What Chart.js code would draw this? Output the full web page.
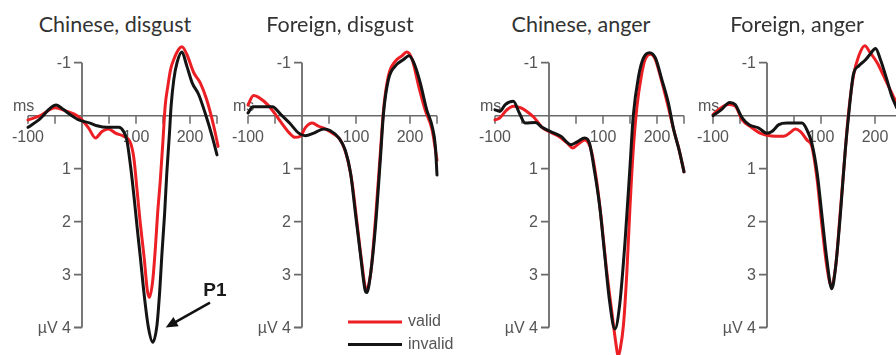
<!DOCTYPE html>
<html>
<head>
<meta charset="utf-8">
<script src="https://cdn.jsdelivr.net/npm/chart.js@4.4.0/dist/chart.umd.min.js"></script>
<style>
  html, body { margin: 0; padding: 0; background: #fff; }
  #wrap { position: relative; width: 896px; height: 355px; overflow: hidden; }
  #wrap canvas { position: absolute; top: 0; }
  .ttl { position: absolute; top: 11px; width: 220px; text-align: center;
         font: 21.5px Lato, "Open Sans", sans-serif; line-height: 26px; color: #333; white-space: nowrap; }
</style>
</head>
<body>
<div id="wrap"></div>
<script>
// ERP waveforms (µV, negative up), time in ms

const panelTitles = ["Chinese, disgust", "Foreign, disgust", "Chinese, anger", "Foreign, anger"];
const seriesLabels = ["valid", "invalid"];

const xTickValues = [-100, -50, 0, 50, 100, 150, 200, 250];
const xTickLabels = ["-100", "", "", "", "100", "", "200", ""];
const yTickValues = [-1, 1, 2, 3, 4];
const yTickLabels = ["-1", "1", "2", "3", "\u00b5V 4"];

// Chinese, disgust
const cdValidT = [-100, -77, -50, -28, -9, 0, 12, 25, 37, 49, 62, 77, 90, 96, 102, 108, 115, 121, 125, 131, 136, 140, 145, 150, 154, 159, 164, 170, 179, 185, 194, 207, 219, 231, 244, 252];
const cdValidV = [0.08, 0, -0.15, -0.08, 0, 0.08, 0.23, 0.42, 0.3, 0.25, 0.33, 0.39, 0.52, 0.8, 1.41, 2.04, 2.67, 3.3, 3.43, 3.11, 2.48, 1.85, 1.22, 0.46, -0.18, -0.56, -0.87, -1.06, -1.25, -1.3, -1.16, -0.81, -0.62, -0.3, 0.2, 0.58];
const cdInvalidT = [-100, -80, -48, -35, -22, -6, 15, 28, 46, 68, 77, 83, 90, 96, 102, 108, 115, 123, 131, 139, 144, 148, 153, 157, 162, 165, 170, 176, 185, 194, 204, 216, 228, 241, 250];
const cdInvalidV = [0.22, 0.08, -0.2, -0.12, -0.02, 0.08, 0.14, 0.19, 0.22, 0.22, 0.3, 0.46, 0.96, 1.5, 2.1, 2.67, 3.37, 4.0, 4.28, 3.94, 3.3, 2.61, 1.85, 1.09, 0.33, -0.18, -0.68, -1.0, -1.2, -0.94, -0.62, -0.4, -0.05, 0.39, 0.74];

// Foreign, disgust
const fdValidT = [-100, -90, -81, -61, -42, -23, -13, -3, 6, 19, 31, 43, 56, 71, 83, 93, 102, 111, 119, 127, 136, 145, 151, 160, 173, 185, 194, 204, 216, 228, 241, 250];
const fdValidV = [-0.2, -0.38, -0.35, -0.18, 0.08, 0.33, 0.41, 0.39, 0.23, 0.14, 0.2, 0.25, 0.33, 0.46, 0.77, 1.28, 2.04, 2.8, 3.29, 2.99, 1.97, 0.71, -0.11, -0.75, -1.03, -1.13, -1.2, -1.06, -0.56, -0.11, 0.27, 0.84];
const fdInvalidT = [-100, -91, -55, -39, -23, -6, 6, 22, 40, 52, 68, 80, 90, 99, 108, 117, 120, 127, 136, 145, 151, 160, 173, 188, 198, 207, 219, 231, 241, 247, 250];
const fdInvalidV = [-0.05, -0.17, -0.17, -0.02, 0.14, 0.33, 0.38, 0.33, 0.25, 0.28, 0.42, 0.65, 1.09, 1.85, 2.6, 3.3, 3.34, 2.99, 2.1, 0.84, -0.05, -0.68, -0.94, -1.06, -1.13, -1.0, -0.62, -0.11, 0.2, 0.58, 1.12];

// Chinese, anger
const caValidT = [-100, -91, -78, -66, -53, -41, -28, -13, 0, 16, 34, 44, 56, 66, 78, 88, 97, 106, 116, 125, 128, 132, 138, 144, 150, 156, 163, 171, 178, 188, 197, 206, 219, 231, 241, 250];
const caValidV = [0.08, 0.04, -0.11, -0.18, -0.15, -0.08, 0.03, 0.22, 0.3, 0.38, 0.52, 0.61, 0.52, 0.46, 0.65, 1.22, 1.97, 2.86, 3.68, 4.38, 4.55, 4.4, 3.94, 2.99, 1.72, 0.65, -0.18, -0.75, -1.06, -1.16, -1.06, -0.75, -0.24, 0.27, 0.65, 1.06];
const caInvalidT = [-100, -91, -81, -66, -55, -44, -25, -13, 3, 22, 41, 53, 66, 75, 84, 94, 103, 112, 122, 131, 141, 150, 156, 166, 175, 186, 197, 209, 221, 231, 241, 250];
const caInvalidV = [-0.11, -0.08, -0.21, -0.27, -0.05, 0.14, 0.13, 0.22, 0.3, 0.39, 0.55, 0.49, 0.42, 0.52, 1.03, 1.72, 2.61, 3.49, 4.03, 3.56, 2.35, 0.96, 0.01, -0.75, -1.09, -1.19, -1.09, -0.68, -0.24, 0.27, 0.65, 1.06];

// Foreign, anger
const faValidT = [-100, -85, -72, -59, -46, -29, -13, 0, 15, 31, 43, 52, 62, 74, 83, 93, 102, 111, 119, 127, 136, 145, 151, 160, 170, 181, 191, 204, 216, 228, 240];
const faValidV = [-0.02, -0.15, -0.21, -0.18, 0.08, 0.22, 0.33, 0.37, 0.39, 0.39, 0.32, 0.25, 0.3, 0.46, 0.58, 1.22, 2.1, 2.86, 3.21, 2.86, 1.78, 0.65, -0.05, -0.75, -1.13, -1.32, -1.19, -1.0, -0.75, -0.49, -0.24];
const faInvalidT = [-100, -85, -69, -59, -46, -33, -16, 0, 9, 22, 37, 52, 65, 74, 83, 93, 102, 111, 120, 127, 136, 145, 151, 160, 170, 182, 191, 201, 210, 222, 231, 240];
const faInvalidV = [0, -0.11, -0.25, -0.21, 0.04, 0.17, 0.23, 0.33, 0.3, 0.17, 0.14, 0.14, 0.14, 0.27, 0.52, 1.09, 1.91, 2.73, 3.27, 2.86, 1.85, 0.65, 0.01, -0.78, -0.94, -1.05, -1.16, -1.27, -1.06, -0.68, -0.37, -0.15];

const RED = "#ec1f24";
const BLACK = "#141414";
const AXIS = "#6a6a6a";
const LABEL = "#555555";
const TICK_FONT = '16px "Liberation Sans", Arial, sans-serif';

const panels = [
  { axisX: 82, titleX: 115, valid: [cdValidT, cdValidV], invalid: [cdInvalidT, cdInvalidV], p1: true },
  { axisX: 302, titleX: 340, valid: [fdValidT, fdValidV], invalid: [fdInvalidT, fdInvalidV], legend: true },
  { axisX: 549, titleX: 581, valid: [caValidT, caValidV], invalid: [caInvalidT, caInvalidV] },
  { axisX: 767, titleX: 797, valid: [faValidT, faValidV], invalid: [faInvalidT, faInvalidV] }
];

function toPoints(times, values) {
  return times.map((t, i) => ({ x: t, y: values[i] }));
}

const erpAxes = {
  id: "erpAxes",
  beforeDatasetsDraw(chart) {
    const { ctx } = chart;
    const xs = chart.scales.x;
    const ys = chart.scales.y;
    const x0 = xs.getPixelForValue(0);
    const y0 = ys.getPixelForValue(0);

    ctx.save();
    ctx.strokeStyle = AXIS;
    ctx.lineWidth = 1.8;
    ctx.lineCap = "butt";

    // y axis + ticks
    ctx.beginPath();
    ctx.moveTo(x0, ys.getPixelForValue(yTickValues[0]));
    ctx.lineTo(x0, ys.getPixelForValue(yTickValues[yTickValues.length - 1]));
    yTickValues.forEach((v) => {
      const py = ys.getPixelForValue(v);
      ctx.moveTo(x0 - 8, py);
      ctx.lineTo(x0, py);
    });
    ctx.stroke();

    // x axis + ticks
    ctx.lineWidth = 1.5;
    ctx.beginPath();
    ctx.moveTo(xs.getPixelForValue(xTickValues[0]), y0);
    ctx.lineTo(xs.getPixelForValue(xTickValues[xTickValues.length - 1]), y0);
    xTickValues.forEach((t) => {
      if (t === 0) return;
      const px = xs.getPixelForValue(t);
      ctx.moveTo(px, y0);
      ctx.lineTo(px, y0 + 8);
    });
    ctx.stroke();

    ctx.fillStyle = LABEL;
    ctx.font = TICK_FONT;
    ctx.textAlign = "right";
    ctx.textBaseline = "middle";
    yTickValues.forEach((v, i) => {
      ctx.fillText(yTickLabels[i], x0 - 11, ys.getPixelForValue(v) + 1);
    });

    ctx.textAlign = "center";
    xTickValues.forEach((t, i) => {
      if (xTickLabels[i]) {
        ctx.fillText(xTickLabels[i], xs.getPixelForValue(t), y0 + 22);
      }
    });

    ctx.textAlign = "left";
    ctx.textBaseline = "alphabetic";
    ctx.fillText("ms", x0 - 69, y0 - 5);
    ctx.restore();
  },
  afterDraw(chart, args, opts) {
    const { ctx } = chart;
    const xs = chart.scales.x;
    const ys = chart.scales.y;
    ctx.save();

    if (opts.legend) {
      const lx = 129;
      [RED, BLACK].forEach((c, i) => {
        const ly = 322 + i * 22.5;
        ctx.strokeStyle = c;
        ctx.lineWidth = 3;
        ctx.beginPath();
        ctx.moveTo(lx, ly);
        ctx.lineTo(lx + 54, ly);
        ctx.stroke();
        ctx.fillStyle = LABEL;
        ctx.font = TICK_FONT;
        ctx.textAlign = "left";
        ctx.textBaseline = "middle";
        ctx.fillText(seriesLabels[i], lx + 60, ly);
      });
    }

    if (opts.p1) {
      const tipX = xs.getPixelForValue(155);
      const tipY = ys.getPixelForValue(4.0);
      const tailX = xs.getPixelForValue(237);
      const tailY = ys.getPixelForValue(3.53);
      const ang = Math.atan2(tipY - tailY, tipX - tailX);
      ctx.strokeStyle = "#111";
      ctx.fillStyle = "#111";
      ctx.lineWidth = 2.5;
      ctx.beginPath();
      ctx.moveTo(tailX, tailY);
      ctx.lineTo(tipX - 6 * Math.cos(ang), tipY - 6 * Math.sin(ang));
      ctx.stroke();
      ctx.beginPath();
      ctx.moveTo(tipX, tipY);
      ctx.lineTo(tipX - 13 * Math.cos(ang - 0.42), tipY - 13 * Math.sin(ang - 0.42));
      ctx.lineTo(tipX - 13 * Math.cos(ang + 0.42), tipY - 13 * Math.sin(ang + 0.42));
      ctx.closePath();
      ctx.fill();
      ctx.font = 'bold 19px "Liberation Sans", Arial, sans-serif';
      ctx.textAlign = "center";
      ctx.textBaseline = "middle";
      ctx.fillStyle = "#1a1a1a";
      ctx.fillText("P1", xs.getPixelForValue(246), ys.getPixelForValue(3.31));
    }
    ctx.restore();
  }
};

const wrap = document.getElementById("wrap");

panels.forEach((p, idx) => {
  const title = document.createElement("div");
  title.className = "ttl";
  title.style.left = (p.titleX - 110) + "px";
  title.textContent = panelTitles[idx];
  wrap.appendChild(title);

  const canvas = document.createElement("canvas");
  canvas.width = 250;
  canvas.height = 355;
  canvas.style.left = (p.axisX - 83) + "px";
  canvas.style.width = "250px";
  canvas.style.height = "355px";
  wrap.appendChild(canvas);

  new Chart(canvas, {
    type: "line",
    data: {
      datasets: [
        {
          label: seriesLabels[1],
          data: toPoints(p.invalid[0], p.invalid[1]),
          borderColor: BLACK,
          borderWidth: 3
        },
        {
          label: seriesLabels[0],
          data: toPoints(p.valid[0], p.valid[1]),
          borderColor: RED,
          borderWidth: 3
        }
      ]
    },
    options: {
      responsive: false,
      animation: false,
      devicePixelRatio: 1,
      layout: { padding: { left: 29, right: 32, top: 62.7, bottom: 27.5 } },
      elements: {
        point: { radius: 0 },
        line: { cubicInterpolationMode: "monotone", borderJoinStyle: "round", borderCapStyle: "round" }
      },
      datasets: { line: { clip: false } },
      plugins: {
        legend: { display: false },
        tooltip: { enabled: false },
        erpAxes: { legend: !!p.legend, p1: !!p.p1 }
      },
      scales: {
        x: { type: "linear", min: -100, max: 250, display: false },
        y: { type: "linear", reverse: true, min: -1, max: 4, display: false }
      }
    },
    plugins: [erpAxes]
  });
});
</script>
</body>
</html>
